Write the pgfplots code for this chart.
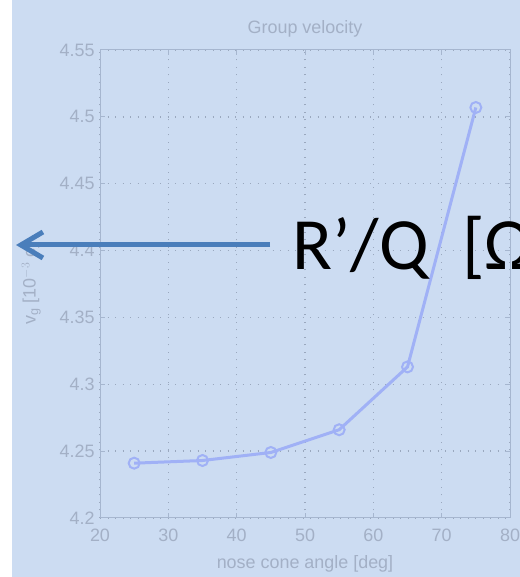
\documentclass[border=0pt]{standalone}
\usepackage{pgfplots}
\pgfplotsset{compat=1.18}
\usepackage{fontspec}
\setmainfont{Liberation Sans}
\newfontfamily\calibri{Carlito}
\usetikzlibrary{arrows.meta}
\definecolor{bgblue}{HTML}{CCDCF2}
\definecolor{txtgray}{HTML}{A3B0C6}
\definecolor{axgray}{HTML}{A6B6CF}
\definecolor{gridgray}{HTML}{9AA8BE}
\definecolor{linecol}{HTML}{A0B1F6}
\definecolor{arrowcol}{HTML}{4A7EBB}
\begin{document}
\begin{tikzpicture}[x=1bp,y=1bp]
\clip (0,0) rectangle (520,577);
\fill[white] (0,0) rectangle (520,577);
\fill[bgblue] (12,0) rectangle (520,577);
\begin{axis}[
  at={(100bp,59bp)}, anchor=south west,
  scale only axis, width=410bp, height=468bp,
  xmin=20, xmax=80, ymin=4.2, ymax=4.55,
  xtick={20,30,...,80},
  ytick={4.2,4.25,4.3,4.35,4.4,4.45,4.5,4.55},
  yticklabel style={/pgf/number format/fixed, /pgf/number format/precision=2, xshift=-2bp},
  xticklabel style={yshift=-7bp},
  /pgf/number format/assume math mode=true,
  grid=major,
  major grid style={gridgray, line width=1.4bp, dash pattern=on 1.2bp off 6.3bp},
  axis line style={axgray, line width=1bp},
  tick style={axgray, line width=1bp},
  major tick length=5bp,
  tick align=inside,
  ticklabel style={font=\fontsize{18}{20}\selectfont, text=txtgray},
  title={Group velocity},
  title style={font=\fontsize{18}{20}\selectfont, text=txtgray, yshift=3bp},
  xlabel={nose cone angle [deg]},
  xlabel style={yshift=-7bp},
  ylabel={v$_\mathrm{g}$ [10$^{-3}$ c]},
  ylabel style={yshift=12bp},
  label style={font=\fontsize{18}{20}\selectfont, text=txtgray},
  axis background/.style={fill=bgblue},
]
\addplot[linecol, line width=3bp, mark=o, mark size=5.5bp, mark options={line width=2bp}]
  coordinates {(25,4.241) (35,4.243) (45,4.249) (55,4.266) (65,4.313) (75,4.507)};
\end{axis}
\draw[arrowcol, line width=5bp, -{Straight Barb[length=22bp, width=26bp, line width=5bp]}] (270,332) -- (16,332);
\node[anchor=base west, inner sep=0pt, font=\calibri\fontsize{74}{80}\selectfont] at (292,307) {R’/Q~~[Ω/m]};
\end{tikzpicture}
\end{document}
